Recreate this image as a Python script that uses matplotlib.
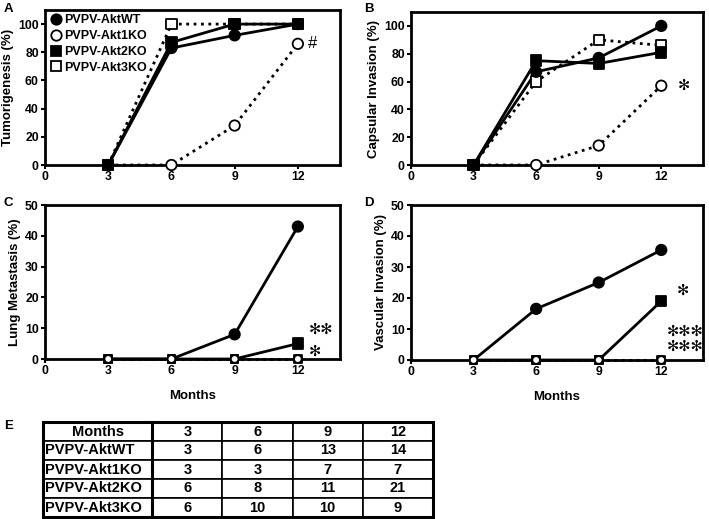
import matplotlib
matplotlib.use("Agg")
import matplotlib.pyplot as plt
from matplotlib.lines import Line2D

plt.rcParams['font.family'] = ['Liberation Sans', 'DejaVu Sans']
plt.rcParams['font.weight'] = 'bold'

months = [3, 6, 9, 12]
series = ["PVPV-AktWT", "PVPV-Akt1KO", "PVPV-Akt2KO", "PVPV-Akt3KO"]

tumor_wt = [0, 83, 92, 100]
tumor_1ko = [0, 0, 28, 86]
tumor_2ko = [0, 87, 100, 100]
tumor_3ko = [0, 100, 100, 100]

caps_wt = [0, 67, 77, 100]
caps_1ko = [0, 0, 14, 57]
caps_2ko = [0, 75, 73, 81]
caps_3ko = [0, 60, 90, 86]

lung_wt = [0, 0, 8, 43]
lung_1ko = [0, 0, 0, 0]
lung_2ko = [0, 0, 0, 5]
lung_3ko = [0, 0, 0, 0]

vasc_wt = [0, 16.5, 25, 35.5]
vasc_1ko = [0, 0, 0, 0]
vasc_2ko = [0, 0, 0, 19]
vasc_3ko = [0, 0, 0, 0]

table_header = ["Months", "3", "6", "9", "12"]
table_wt = [3, 6, 13, 14]
table_1ko = [3, 3, 7, 7]
table_2ko = [6, 8, 11, 21]
table_3ko = [6, 10, 10, 9]

W, H = 709, 519
fig = plt.figure(figsize=(W / 100, H / 100), dpi=100)

def fx(px):
    return px / W

def fy(py):
    return 1 - py / H

styles = [
    dict(marker='o', mfc='black', ls='-'),
    dict(marker='o', mfc='white', ls=':'),
    dict(marker='s', mfc='black', ls='-'),
    dict(marker='s', mfc='white', ls=':'),
]

def make_ax(l, t, r, b, ymax, yticks, ylabel, data, order, small_zero=False, xlabel=None):
    ax = fig.add_axes([fx(l), fy(b), fx(r - l), fy(t) - fy(b)])
    for z, i in enumerate(order):
        st = styles[i]
        ax.plot(months, data[i], color='black', lw=2.0, ls=st['ls'],
                clip_on=False, zorder=2 + z * 0.1)
    for z, i in enumerate(order):
        st = styles[i]
        sizes = [(5.5 if (small_zero and v == 0) else 7.5) ** 2 for v in data[i]]
        ax.scatter(months, data[i], s=sizes, marker=st['marker'], facecolor=st['mfc'],
                   edgecolor='black', linewidth=1.3, clip_on=False, zorder=4 + z * 0.1)
    ax.set_xlim(0, 14)
    ax.set_ylim(0, ymax)
    ax.set_xticks([0, 3, 6, 9, 12])
    ax.set_yticks(yticks)
    for s in ax.spines.values():
        s.set_linewidth(2)
    ax.tick_params(width=1.5, length=3, labelsize=8.8, pad=1.5)
    for lab in ax.get_xticklabels() + ax.get_yticklabels():
        lab.set_fontweight('bold')
    ax.set_ylabel(ylabel, fontsize=9.5, fontweight='bold', labelpad=3)
    if xlabel:
        ax.set_xlabel(xlabel, fontsize=9.5, fontweight='bold', labelpad=9)
    return ax

axA = make_ax(45, 10, 340, 165, 110, [0, 20, 40, 60, 80, 100], "Tumorigenesis (%)",
              [tumor_wt, tumor_1ko, tumor_2ko, tumor_3ko], [1, 3, 0, 2])
axB = make_ax(411, 12, 703, 165, 110, [0, 20, 40, 60, 80, 100], "Capsular Invasion (%)",
              [caps_wt, caps_1ko, caps_2ko, caps_3ko], [1, 3, 0, 2])
axC = make_ax(45, 205, 340, 359, 50, [0, 10, 20, 30, 40, 50], "Lung Metastasis (%)",
              [lung_wt, lung_1ko, lung_2ko, lung_3ko], [0, 2, 3, 1], small_zero=True,
              xlabel="Months")
axD = make_ax(411, 205, 703, 360, 50, [0, 10, 20, 30, 40, 50], "Vascular Invasion (%)",
              [vasc_wt, vasc_1ko, vasc_2ko, vasc_3ko], [0, 2, 3, 1], small_zero=True,
              xlabel="Months")

# legend
leg_handles = [Line2D([], [], ls='none', marker=styles[i]['marker'], mfc=styles[i]['mfc'],
                      mec='black', mew=1.3, ms=7.5) for i in range(4)]
axA.legend(leg_handles, series, loc='upper left', frameon=False,
           prop={'weight': 'bold', 'size': 9}, handletextpad=0.2, borderaxespad=0.15,
           labelspacing=0.3, handlelength=1.0, borderpad=0.2)

# significance marks
star = '\u273B'
sfs = 10.5
axA.text(12.7, 86, '#', fontsize=12, ha='center', va='center', fontweight='normal')
axB.text(13.1, 57, star, fontsize=sfs, ha='center', va='center', family='DejaVu Sans')
axC.text(13.1, 9.6, star + star, fontsize=sfs, ha='center', va='center', family='DejaVu Sans')
axC.text(12.8, 2.6, star, fontsize=sfs, ha='center', va='center', family='DejaVu Sans')
axD.text(13.05, 22.5, star, fontsize=sfs, ha='center', va='center', family='DejaVu Sans')
axD.text(13.15, 9.2, star * 3, fontsize=sfs, ha='center', va='center', family='DejaVu Sans')
axD.text(13.15, 4.4, star * 3, fontsize=sfs, ha='center', va='center', family='DejaVu Sans')

# panel letters
for letter, (px, py) in zip("ABCDE", [(4, 3), (364, 3), (4, 197), (364, 197), (4, 420)]):
    fig.text(fx(px), fy(py), letter, fontsize=9.5, fontweight='bold', ha='left', va='top')

# table
axT = fig.add_axes([fx(43), fy(517), fx(433 - 43), fy(422) - fy(517)])
axT.axis('off')
cell_text = [table_header]
for name, row in zip(series, [table_wt, table_1ko, table_2ko, table_3ko]):
    cell_text.append([name] + [str(v) for v in row])
tbl = axT.table(cellText=cell_text, bbox=[0, 0, 1, 1], cellLoc='center',
                colWidths=[109, 70, 70, 70, 70])
tbl.auto_set_font_size(False)
for (r, c), cell in tbl.get_celld().items():
    cell.set_linewidth(1.2)
    cell.get_text().set_fontsize(10.5)
    cell.get_text().set_fontweight('bold')
    if c == 0 and r > 0:
        cell.get_text().set_ha('left')
        cell.PAD = 0.02
        cell._loc = 'left'
axT.add_patch(plt.Rectangle((0, 0), 1, 1, transform=axT.transAxes, fill=False,
                            lw=2.2, ec='black', zorder=5, clip_on=False))
axT.plot([109 / 389, 109 / 389], [0, 1], color='black', lw=2.2, transform=axT.transAxes,
         clip_on=False, zorder=5)

fig.savefig("out.png", dpi=100)
